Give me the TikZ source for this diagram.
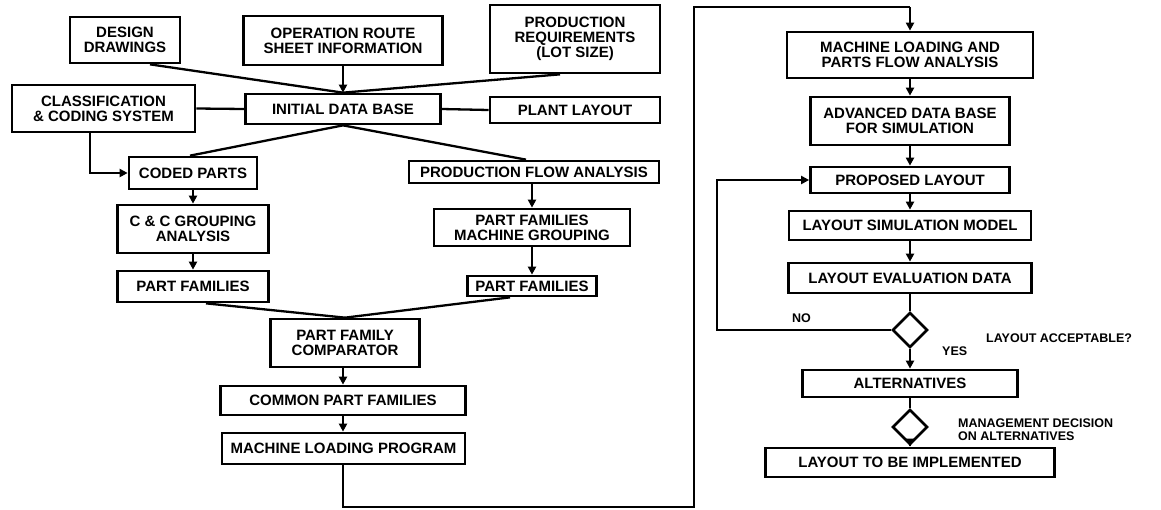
\documentclass[tikz,border=0pt]{standalone}
\usepackage{fontspec}
\setmainfont{Liberation Sans}
\usetikzlibrary{shapes.geometric,arrows.meta}
\tikzset{
  box/.style={draw, line width=2.7pt, inner sep=0pt, align=center,
    font=\bfseries\fontsize{15}{15}\selectfont},
  dia/.style={draw, diamond, line width=2.7pt, inner sep=0pt, minimum width=35pt, minimum height=35pt, aspect=1},
  lbl/.style={font=\bfseries\fontsize{12.5}{13}\selectfont, inner sep=0pt, align=left},
  ln/.style={line width=2.3pt},
  arr/.style={line width=2.3pt, -{Triangle[length=8pt,width=8pt]}}
}
\begin{document}
\begin{tikzpicture}[x=1pt,y=-1pt]
\useasboundingbox (0,0) rectangle (1161,509);
% left part
\node[box, minimum width=110pt, minimum height=46pt] (dd) at (125,40) {DESIGN\\DRAWINGS};
\node[box, minimum width=199pt, minimum height=49pt] (ors) at (343,40.5) {OPERATION ROUTE\\SHEET INFORMATION};
\node[box, minimum width=170pt, minimum height=68pt] (pr) at (575,39) {PRODUCTION\\REQUIREMENTS\\(LOT SIZE)};
\node[box, minimum width=195pt, minimum height=30pt] (idb) at (343,109) {INITIAL DATA BASE};
\node[box, minimum width=183pt, minimum height=47pt] (ccs) at (103.5,108.5) {CLASSIFICATION\\\& CODING SYSTEM};
\node[box, minimum width=170pt, minimum height=26pt] (pl) at (575,110) {PLANT LAYOUT};
\node[box, minimum width=128pt, minimum height=32pt] (cp) at (193,173) {CODED PARTS};
\node[box, minimum width=151pt, minimum height=48pt] (cca) at (193,229) {C \& C GROUPING\\ANALYSIS};
\node[box, minimum width=151pt, minimum height=31pt] (pfl) at (193,286.5) {PART FAMILIES};
\node[box, minimum width=250pt, minimum height=22pt] (pfa) at (534,172) {PRODUCTION FLOW ANALYSIS};
\node[box, minimum width=196pt, minimum height=37pt] (pfmg) at (532,227.5) {PART FAMILIES\\MACHINE GROUPING};
\node[box, minimum width=129pt, minimum height=20pt] (pfr) at (532,286) {PART FAMILIES};
\node[box, minimum width=149pt, minimum height=48pt] (pfc) at (345,343) {PART FAMILY\\COMPARATOR};
\node[box, minimum width=245pt, minimum height=29pt] (cpf) at (343,400.5) {COMMON PART FAMILIES};
\node[box, minimum width=243pt, minimum height=31pt] (mlp) at (343.5,448.5) {MACHINE LOADING PROGRAM};
% right part
\node[box, minimum width=246pt, minimum height=46pt] (mlpfa) at (910,55) {MACHINE LOADING AND\\PARTS FLOW ANALYSIS};
\node[box, minimum width=199pt, minimum height=48pt] (adb) at (910,121) {ADVANCED DATA BASE\\FOR SIMULATION};
\node[box, minimum width=199pt, minimum height=26pt] (pl2) at (910,180) {PROPOSED LAYOUT};
\node[box, minimum width=242pt, minimum height=29pt] (lsm) at (910,225.5) {LAYOUT SIMULATION MODEL};
\node[box, minimum width=243pt, minimum height=30pt] (led) at (910,278) {LAYOUT EVALUATION DATA};
\node[dia] (d1) at (910,330) {};
\node[box, minimum width=215pt, minimum height=27pt] (alt) at (910,383.5) {ALTERNATIVES};
\node[dia] (d2) at (910,427) {};
\node[box, minimum width=289pt, minimum height=29pt] (ltbi) at (910,462.5) {LAYOUT TO BE IMPLEMENTED};
% labels
\node[lbl, anchor=west] (no) at (792,318) {NO};
\node[lbl, anchor=west] (yes) at (942,351) {YES};
\node[lbl, anchor=west] (la) at (986,338) {LAYOUT ACCEPTABLE?};
\node[lbl, anchor=north west] (md) at (958,419) {MANAGEMENT DECISION\\ON ALTERNATIVES};
% coordinates
\coordinate (c1) at (343,507);
\coordinate (c2) at (694,507);
\coordinate (c3) at (694,7);
\coordinate (c4) at (910,7);
\coordinate (n1) at (717,330);
% connectors
\draw[ln] ([xshift=25pt]dd.south) -- (idb.north);
\draw[ln] ([xshift=-15pt]pr.south) -- (idb.north);
\draw[arr] (ors.south) -- (idb.north);
\draw[ln] (ccs.east) -- (idb.west);
\draw[ln] (idb.east) -- (pl.west);
\draw[arr] ([xshift=-13.5pt]ccs.south) |- (cp.west);
\draw[ln] (idb.south) -- ([xshift=-3pt]cp.north);
\draw[ln] (idb.south) -- ([xshift=-8pt]pfa.north);
\draw[arr] (cp.south) -- (cca.north);
\draw[arr] (cca.south) -- (pfl.north);
\draw[arr] (pfa.south -| pfmg.north) -- (pfmg.north);
\draw[arr] (pfmg.south) -- (pfr.north);
\draw[ln] ([xshift=13pt]pfl.south) -- (pfc.north);
\draw[ln] ([xshift=-22pt]pfr.south) -- (pfc.north);
\draw[arr] (pfc.south -| cpf.north) -- (cpf.north);
\draw[arr] (cpf.south) -- (cpf.south |- mlp.north);
\draw[ln] (mlp.south -| c1) -- (c1) -- (c2) -- (c3) -- (c4);
\draw[arr] (c4) -- (mlpfa.north);
\draw[arr] (mlpfa.south) -- (adb.north);
\draw[arr] (adb.south) -- (pl2.north);
\draw[arr] (pl2.south) -- (lsm.north);
\draw[arr] (lsm.south) -- (led.north);
\draw[ln] (led.south) -- (d1.north);
\draw[arr] (d1.west) -- (n1) |- (pl2.west);
\draw[arr] (d1.south) -- (alt.north);
\draw[ln] (alt.south) -- (d2.north);
\draw[arr] (d2.south) -- (ltbi.north);
\end{tikzpicture}
\end{document}
